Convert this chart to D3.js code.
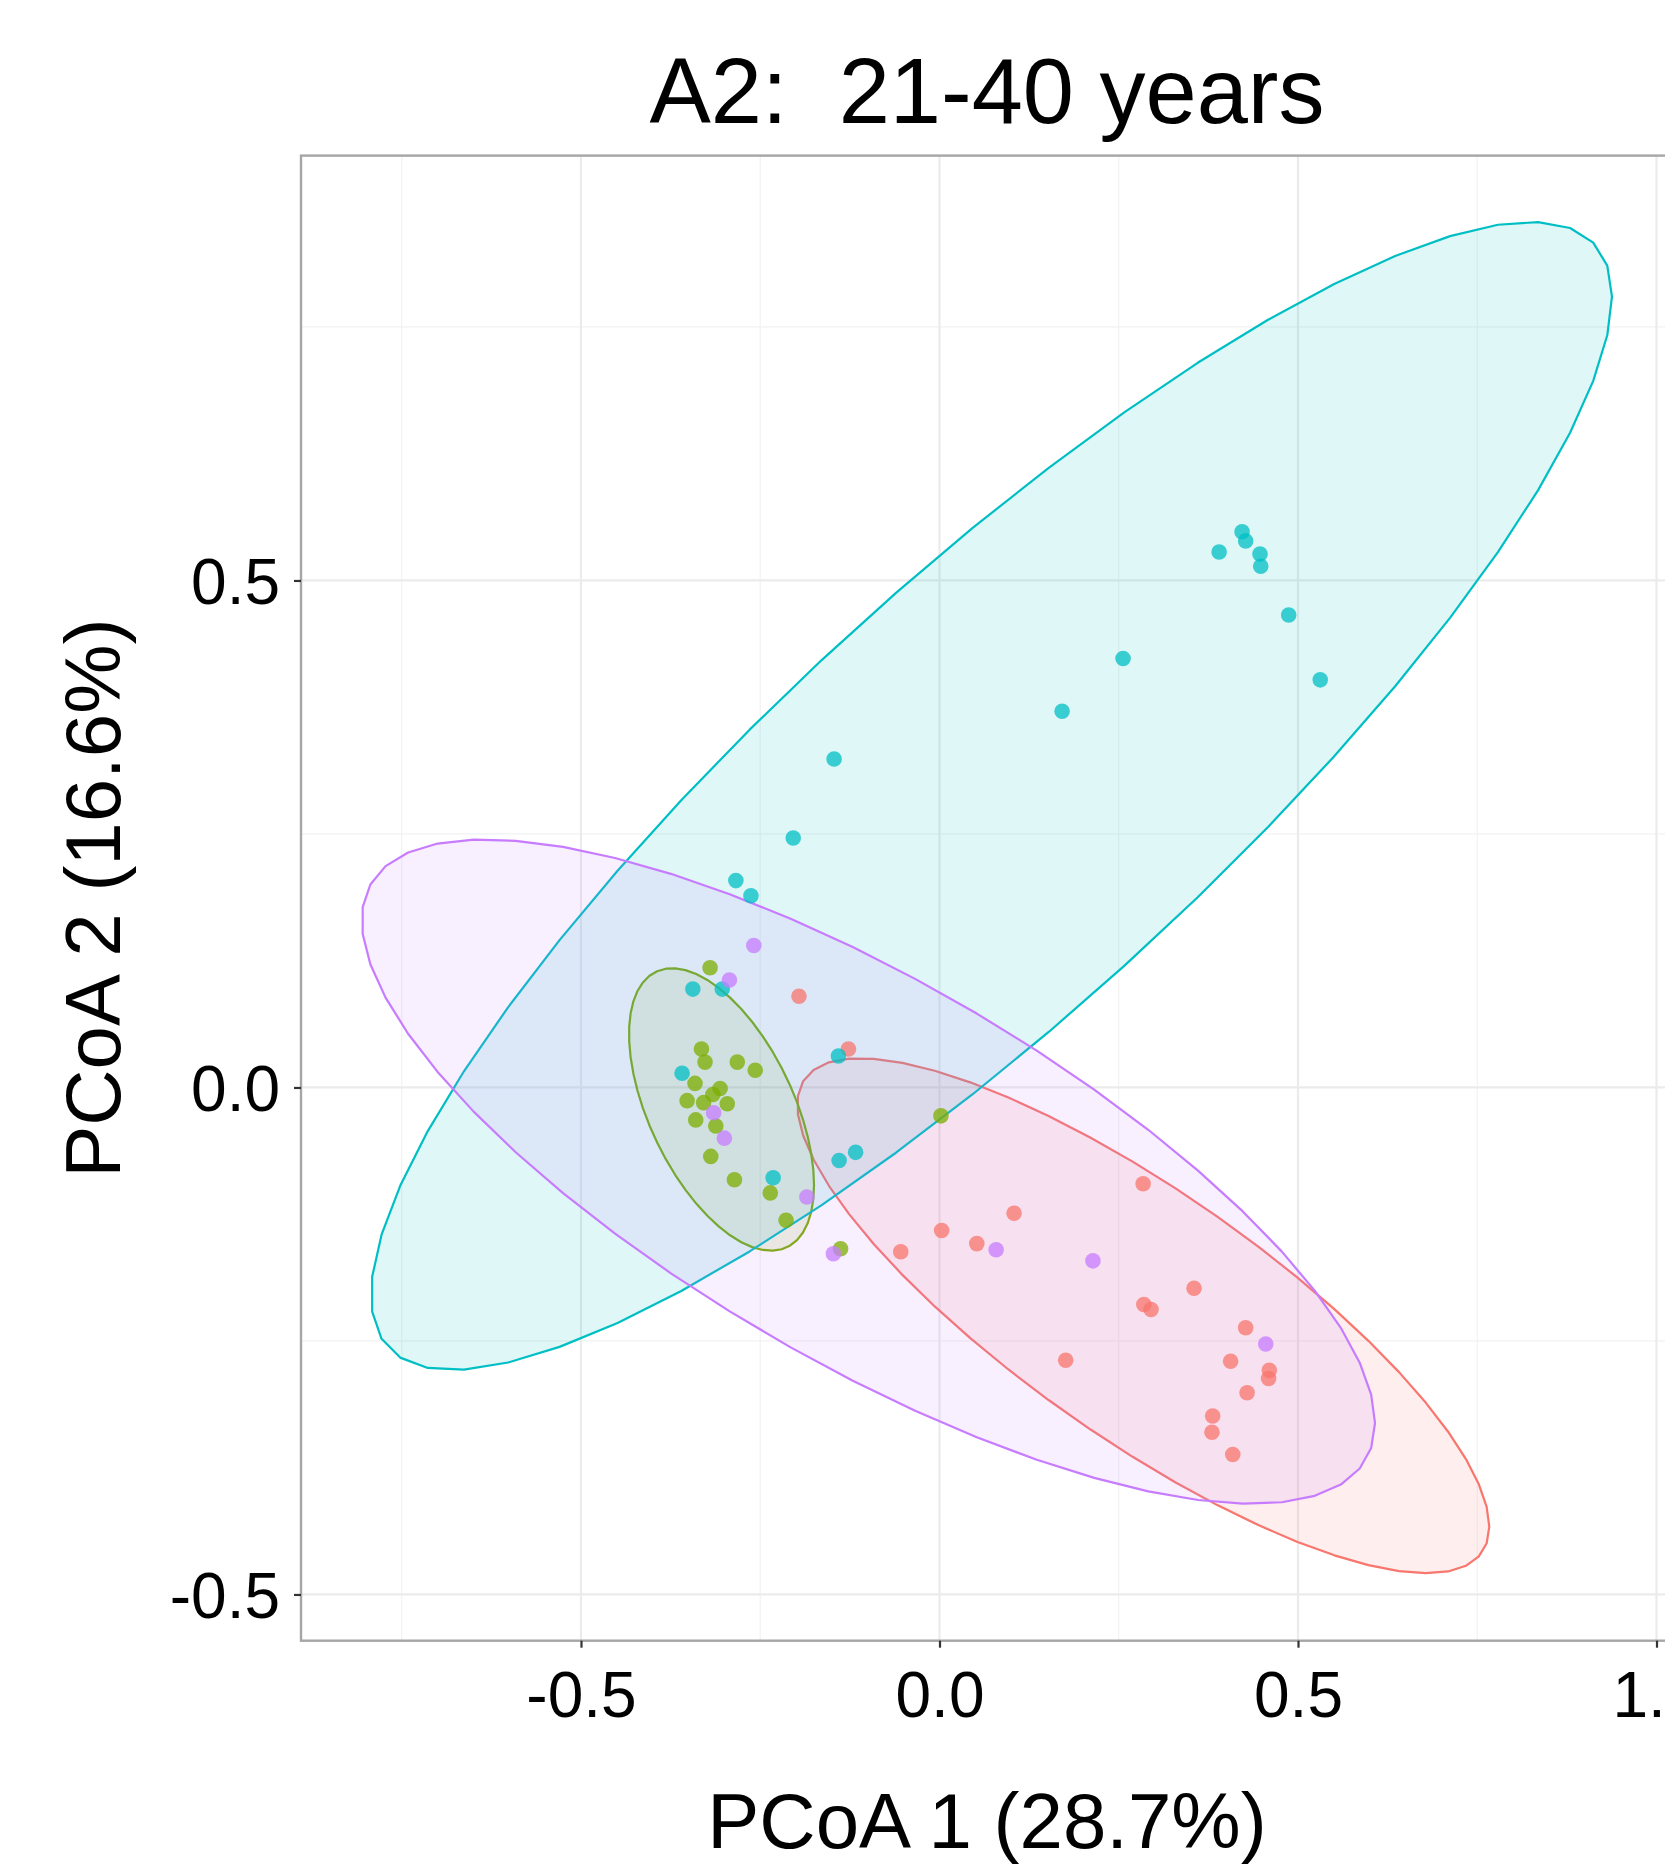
<!DOCTYPE html>
<html>
<head>
<meta charset="utf-8">
<script src="https://cdn.jsdelivr.net/npm/d3@7"></script>
<style>
  body { margin: 0; background: #fff; }
  svg { display: block; font-family: "Liberation Sans", Arial, Helvetica, sans-serif; }
  .plot-title { white-space: pre; }
</style>
</head>
<body>
<svg id="chart" width="1665" height="1872"></svg>
<script>
// ---- data -----------------------------------------------------------
const groups = ["G1", "G2", "G3", "G4"];
const groupColors = ["#F8766D", "#7CAE00", "#00BFC4", "#C77CFF"];

// PCoA scores per group (axis 1, axis 2)
const g1Pc1 = [-0.196, -0.127, -0.054, 0.003, 0.052, 0.104, 0.284, 0.285, 0.295, 0.355,
               0.176, 0.427, 0.406, 0.460, 0.459, 0.429, 0.381, 0.380, 0.409];
const g1Pc2 = [0.090, 0.038, -0.162, -0.141, -0.154, -0.124, -0.095, -0.214, -0.219, -0.198,
               -0.269, -0.237, -0.270, -0.279, -0.287, -0.301, -0.324, -0.340, -0.362];

const g2Pc1 = [-0.320, -0.332, -0.327, -0.282, -0.257, -0.341, -0.306, -0.316, -0.352, -0.329,
               -0.296, -0.340, -0.312, -0.319, -0.286, -0.236, -0.214, -0.138, 0.002];
const g2Pc2 = [0.118, 0.038, 0.025, 0.025, 0.017, 0.004, -0.001, -0.007, -0.013, -0.015,
               -0.016, -0.032, -0.038, -0.068, -0.091, -0.104, -0.131, -0.159, -0.028];

const g3Pc1 = [0.390, 0.422, 0.427, 0.447, 0.448, 0.487, 0.531, 0.256, 0.171, -0.147,
               -0.204, -0.284, -0.263, -0.344, -0.303, -0.359, -0.141, -0.232, -0.140, -0.117];
const g3Pc2 = [0.528, 0.548, 0.539, 0.526, 0.514, 0.466, 0.402, 0.423, 0.371, 0.324,
               0.246, 0.204, 0.189, 0.097, 0.097, 0.014, 0.031, -0.089, -0.072, -0.064];

const g4Pc1 = [-0.259, -0.293, -0.315, -0.300, -0.185, -0.148, 0.079, 0.214, 0.455];
const g4Pc2 = [0.140, 0.106, -0.025, -0.050, -0.108, -0.164, -0.160, -0.171, -0.253];

// 95% confidence ellipses: centre and shape matrix [sxx, sxy, syy]
const ellipseCentres = [[0.2842, -0.2251], [-0.3040, -0.0217], [0.0725, 0.2875], [-0.0992, -0.0830]];
const ellipseShapes = [[0.2329, -0.1004, 0.06449], [0.01664, -0.00961, 0.01940],
                       [0.7489, 0.4261, 0.3205], [0.4993, -0.1753, 0.1073]];

const xTicks = [-0.5, 0.0, 0.5, 1.0];
const yTicks = [-0.5, 0.0, 0.5];
const xMinor = [-0.75, -0.25, 0.25, 0.75];
const yMinor = [-0.25, 0.25, 0.75];
const xLimits = [-0.8905, 1.023];
const yLimits = [-0.5456, 0.919];

const titleText = "A2:  21-40 years";
const xTitle = "PCoA 1 (28.7%)";
const yTitle = "PCoA 2 (16.6%)";

const pc1 = [g1Pc1, g2Pc1, g3Pc1, g4Pc1];
const pc2 = [g1Pc2, g2Pc2, g3Pc2, g4Pc2];

// ---- layout ---------------------------------------------------------
const panel = { left: 301, top: 155.6, right: 1673, bottom: 1640.7 };
const svg = d3.select("#chart");

const x = d3.scaleLinear().domain(xLimits).range([panel.left, panel.right]);
const y = d3.scaleLinear().domain(yLimits).range([panel.bottom, panel.top]);

svg.append("defs").append("clipPath").attr("id", "panel-clip")
  .append("rect")
  .attr("x", panel.left).attr("y", panel.top)
  .attr("width", panel.right - panel.left).attr("height", panel.bottom - panel.top);

const plot = svg.append("g").attr("clip-path", "url(#panel-clip)");

plot.append("rect")
  .attr("x", panel.left).attr("y", panel.top)
  .attr("width", panel.right - panel.left).attr("height", panel.bottom - panel.top)
  .attr("fill", "#fff");

// grid lines
const grid = plot.append("g");
grid.selectAll(".vminor").data(xMinor).join("line")
  .attr("x1", d => x(d)).attr("x2", d => x(d))
  .attr("y1", panel.top).attr("y2", panel.bottom)
  .attr("stroke", "#F2F2F2").attr("stroke-width", 1.2);
grid.selectAll(".hminor").data(yMinor).join("line")
  .attr("y1", d => y(d)).attr("y2", d => y(d))
  .attr("x1", panel.left).attr("x2", panel.right)
  .attr("stroke", "#F2F2F2").attr("stroke-width", 1.2);
grid.selectAll(".vmajor").data(xTicks).join("line")
  .attr("x1", d => x(d)).attr("x2", d => x(d))
  .attr("y1", panel.top).attr("y2", panel.bottom)
  .attr("stroke", "#EBEBEB").attr("stroke-width", 2.2);
grid.selectAll(".hmajor").data(yTicks).join("line")
  .attr("y1", d => y(d)).attr("y2", d => y(d))
  .attr("x1", panel.left).attr("x2", panel.right)
  .attr("stroke", "#EBEBEB").attr("stroke-width", 2.2);

// ellipse polygons (51 segments, like stat_ellipse)
function ellipsePoints(centre, shape) {
  const [sxx, sxy, syy] = shape;
  const r11 = Math.sqrt(sxx);
  const r12 = sxy / r11;
  const r22 = Math.sqrt(syy - r12 * r12);
  const segments = 51;
  return d3.range(segments + 1).map(i => {
    const t = i * 2 * Math.PI / segments;
    return [x(centre[0] + r11 * Math.cos(t)),
            y(centre[1] + r12 * Math.cos(t) + r22 * Math.sin(t))];
  });
}

const ellipseLayer = plot.append("g");
groups.forEach((g, gi) => {
  ellipseLayer.append("path")
    .attr("d", d3.line()(ellipsePoints(ellipseCentres[gi], ellipseShapes[gi])) + "Z")
    .attr("fill", groupColors[gi])
    .attr("fill-opacity", 0.12)
    .attr("stroke", groupColors[gi])
    .attr("stroke-width", 2.2)
    .attr("stroke-linejoin", "round");
});

// points, drawn over the ellipses
const pointLayer = plot.append("g");
groups.forEach((g, gi) => {
  pointLayer.selectAll(".pt-" + gi)
    .data(pc1[gi].map((v, i) => [v, pc2[gi][i]]))
    .join("circle")
    .attr("cx", d => x(d[0]))
    .attr("cy", d => y(d[1]))
    .attr("r", 7.8)
    .attr("fill", groupColors[gi])
    .attr("fill-opacity", 0.75);
});

// panel border
svg.append("rect")
  .attr("x", panel.left).attr("y", panel.top)
  .attr("width", panel.right - panel.left).attr("height", panel.bottom - panel.top)
  .attr("fill", "none").attr("stroke", "#A6A6A6").attr("stroke-width", 2.4);

// axes
const fmt = d => d.toFixed(1);
const xAxis = svg.append("g")
  .attr("transform", `translate(0,${panel.bottom})`)
  .call(d3.axisBottom(x).tickValues(xTicks).tickFormat(fmt).tickSize(7).tickPadding(24));
const yAxis = svg.append("g")
  .attr("transform", `translate(${panel.left},0)`)
  .call(d3.axisLeft(y).tickValues(yTicks).tickFormat(fmt).tickSize(7).tickPadding(14));

[xAxis, yAxis].forEach(a => {
  a.select(".domain").remove();
  a.selectAll(".tick line").attr("stroke", "#333").attr("stroke-width", 2.2);
  a.selectAll(".tick text")
    .attr("fill", "#000")
    .style("font-family", '"Liberation Sans", Arial, sans-serif')
    .style("font-size", "64px");
});
yAxis.selectAll(".tick text").attr("dy", "0.36em");

// titles
svg.append("text")
  .attr("class", "plot-title")
  .attr("xml:space", "preserve")
  .attr("x", (panel.left + panel.right) / 2).attr("y", 123)
  .attr("text-anchor", "middle")
  .style("font-size", "92px").attr("fill", "#000")
  .text(titleText);

svg.append("text")
  .attr("x", (panel.left + panel.right) / 2).attr("y", 1848)
  .attr("text-anchor", "middle")
  .style("font-size", "78px").attr("fill", "#000")
  .text(xTitle);

svg.append("text")
  .attr("transform", `translate(120,${(panel.top + panel.bottom) / 2}) rotate(-90)`)
  .attr("text-anchor", "middle")
  .style("font-size", "78px").attr("fill", "#000")
  .text(yTitle);
</script>
</body>
</html>
